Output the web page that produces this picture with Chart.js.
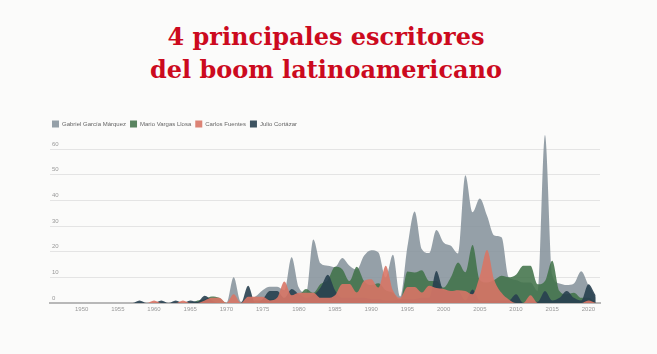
<!DOCTYPE html>
<html lang="es">
<head>
<meta charset="utf-8">
<title>4 principales escritores del boom latinoamericano</title>
<script src="https://cdn.jsdelivr.net/npm/chart.js@4.4.1/dist/chart.umd.min.js"></script>
<style>
  html, body { margin: 0; padding: 0; background: #fbfbfa; }
  #contenedor { position: relative; width: 657px; height: 354px; }
  h1 {
    position: absolute; top: 20px; left: 0; width: 652px; margin: 0;
    text-align: center; font: bold 24px/33px "DejaVu Serif", serif; color: #cc0a1e;
  }
  canvas { position: absolute; left: 0; top: 0; }
</style>
</head>
<body>
<div id="contenedor">
  <h1>4 principales escritores<br>del boom latinoamericano</h1>
  <canvas id="graficoAreas" width="657" height="354"></canvas>
</div>
<script>
// Años (eje x)
const anios = [
  1946, 1947, 1948, 1949,
  1950, 1951, 1952, 1953, 1954, 1955, 1956, 1957, 1958, 1959,
  1960, 1961, 1962, 1963, 1964, 1965, 1966, 1967, 1968, 1969,
  1970, 1971, 1972, 1973, 1974, 1975, 1976, 1977, 1978, 1979,
  1980, 1981, 1982, 1983, 1984, 1985, 1986, 1987, 1988, 1989,
  1990, 1991, 1992, 1993, 1994, 1995, 1996, 1997, 1998, 1999,
  2000, 2001, 2002, 2003, 2004, 2005, 2006, 2007, 2008, 2009,
  2010, 2011, 2012, 2013, 2014, 2015, 2016, 2017, 2018, 2019,
  2020, 2021
];
const etiquetasX = [1950, 1955, 1960, 1965, 1970, 1975, 1980, 1985, 1990, 1995, 2000, 2005, 2010, 2015, 2020];
const etiquetasY = [0, 10, 20, 30, 40, 50, 60];

const nombres = ['Gabriel García Márquez', 'Mario Vargas Llosa', 'Carlos Fuentes', 'Julio Cortázar'];

const garciaMarquez = [
  0, 0, 0, 0,
  0, 0, 0, 0, 0, 0, 0, 0, 0, 0,
  0, 0, 0, 0, 0, 0, 0, 0, 0, 0,
  0, 10, 0.5, 1.5, 2.5, 5, 6.3, 6.3, 5, 17.8,
  6, 4, 24.8, 15.5, 14.5, 14, 17.5, 14.5, 13, 18.4,
  20.6, 19.7, 10, 18.8, 2.5, 22, 35.7, 21, 19.5, 28.5,
  23.6, 22.3, 19.3, 49.8, 35.4, 40.7, 34, 26.3, 25.6, 10,
  9, 8, 8, 4.7, 65.5, 11, 7.6, 7, 7.6, 12.4,
  7, 2
];
const vargasLlosa = [
  0, 0, 0, 0,
  0, 0, 0, 0, 0, 0, 0, 0, 0, 0,
  0, 0, 0, 0, 0, 0, 1, 1.5, 2.5, 2,
  0, 0, 0, 0.5, 1, 1, 1.5, 1.5, 1.5, 2,
  3, 5.5, 4, 7.4, 9, 14.1, 13.2, 8.6, 14.1, 8.6,
  7, 7.7, 5, 4, 1, 12.3, 11.9, 12.8, 8.6, 8.6,
  6, 10, 15.8, 12, 22.6, 9, 8, 9, 10.6, 10,
  11, 14.5, 14.5, 7.3, 8.6, 16.5, 4.7, 3.4, 4, 2,
  2, 0
];
const fuentes = [
  0, 0, 0, 0,
  0, 0, 0, 0, 0, 0, 0, 0, 0, 0,
  1, 0, 0, 0, 1, 0, 0, 1, 2, 2,
  0, 3.4, 0, 2.4, 2.4, 2.4, 1, 2, 8.4, 3,
  4, 4, 4, 2, 2, 3, 7.4, 7.4, 4.1, 8.6,
  9.3, 6, 14.5, 5, 2, 6.2, 6.2, 4.1, 6.7, 5.8,
  5.5, 4.7, 5, 4.7, 3.4, 10.6, 20.7, 9, 4, 1.4,
  0, 0, 3, 0, 0, 0, 0, 0, 0, 0,
  1, 0
];
const cortazar = [
  0, 0, 0, 0,
  0, 0, 0, 0, 0, 0, 0, 0, 1, 0,
  0, 1, 0, 1, 0, 1, 0.5, 2.8, 1, 0,
  0, 0, 0, 6.7, 0, 1.5, 4.7, 4.7, 2, 5.5,
  3.5, 2, 3, 6, 11, 5, 2, 2, 2, 2,
  1.5, 1.5, 1, 1, 1.5, 1.5, 1.5, 2, 2, 12.5,
  5, 4.7, 4.7, 1, 5.3, 1, 1, 1, 1, 1,
  3.4, 0, 0.5, 0.5, 4.7, 1, 2, 4.7, 2, 1,
  7.3, 3
];

const colores = ['rgba(134,147,156,0.88)', 'rgba(66,115,74,0.88)', 'rgba(216,118,102,0.9)', 'rgba(40,64,80,0.9)'];
// gris al fondo, salmón al frente
const ordenDibujo = [4, 3, 1, 2];

// la leyenda ocupa menos alto que el que calcula Chart.js
const ajusteLeyenda = {
  id: 'ajusteLeyenda',
  beforeLayout(chart) {
    const leyenda = chart.legend;
    if (!leyenda || leyenda._ajustada) return;
    const fitOriginal = leyenda.fit;
    leyenda.fit = function () {
      fitOriginal.call(this);
      this.height = 17.2;
    };
    leyenda._ajustada = true;
  }
};

const valores = [garciaMarquez, vargasLlosa, fuentes, cortazar];
const ctx = document.getElementById('graficoAreas');

new Chart(ctx, {
  type: 'line',
  data: {
    datasets: valores.map((serie, i) => ({
      label: nombres[i],
      data: anios.map((a, j) => ({ x: a, y: serie[j] })),
      backgroundColor: colores[i],
      borderColor: 'rgba(0,0,0,0)',
      borderWidth: 0,
      fill: 'origin',
      order: ordenDibujo[i],
      cubicInterpolationMode: 'monotone',
      pointRadius: 0
    }))
  },
  options: {
    responsive: false,
    animation: false,
    layout: { padding: { top: 116.5, left: 48, right: 57, bottom: 37.8 } },
    plugins: {
      legend: {
        position: 'top',
        align: 'start',
        labels: {
          boxWidth: 7,
          boxHeight: 7,
          padding: 4,
          color: '#666',
          font: { size: 6, family: 'Liberation Sans' },
          sort: (a, b) => a.datasetIndex - b.datasetIndex
        }
      },
      tooltip: { enabled: false }
    },
    scales: {
      x: {
        type: 'linear',
        min: 1945.63,
        max: 2021.6,
        grid: { display: false, drawTicks: false },
        border: { color: '#b8b8b8', width: 2 },
        ticks: {
          color: '#999',
          font: { size: 6, family: 'Liberation Sans' },
          padding: 3,
          autoSkip: false,
          maxRotation: 0,
          callback: v => String(v)
        },
        afterBuildTicks: s => { s.ticks = etiquetasX.map(v => ({ value: v })); }
      },
      y: {
        min: 0,
        max: 66,
        grid: { color: '#e4e4e4', drawTicks: false },
        border: { display: false },
        ticks: {
          mirror: true,
          padding: 2,
          labelOffset: -5,
          color: '#999',
          font: { size: 6, family: 'Liberation Sans' }
        },
        afterBuildTicks: s => { s.ticks = etiquetasY.map(v => ({ value: v })); },
        afterFit: s => { s.width = 2; }
      }
    }
  },
  plugins: [ajusteLeyenda]
});
</script>
</body>
</html>
